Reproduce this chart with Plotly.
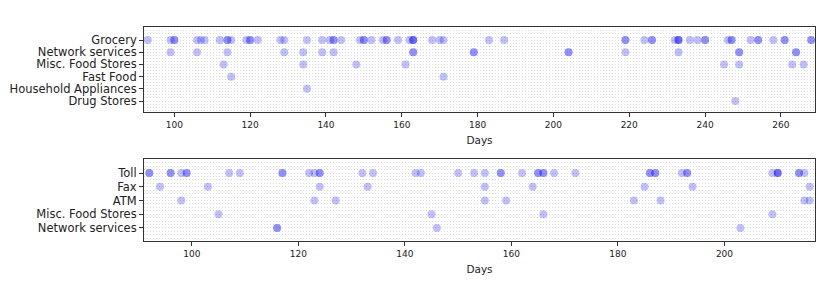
import plotly.graph_objects as go

# ---------------- data (day numbers, repeated days = several transactions) -------------
top_categories = ["Grocery", "Network services", "Misc. Food Stores", "Fast Food",
                  "Household Appliances", "Drug Stores"]
top_grocery = [93, 99, 100, 100, 106, 107, 108, 112, 114, 114, 115, 119, 120, 120, 122, 128, 129,
               135, 139, 141, 142, 142, 144, 149, 150, 150, 152, 155, 156, 156, 159, 162,
               163, 163, 163, 168, 170, 171, 183, 187, 219, 219, 224, 226, 226, 232,
               233, 233, 233, 236, 238, 240, 240, 246, 247, 247, 252, 254, 254, 258,
               261, 261, 268, 268]
top_network = [99, 106, 114, 129, 134, 139, 142, 163, 163, 179, 179, 204, 204, 219, 233,
               249, 249, 264, 264]
top_misc_food = [113, 134, 148, 161, 245, 249, 263, 266]
top_fast_food = [115, 171]
top_household = [135]
top_drug = [248]

bottom_categories = ["Toll", "Fax", "ATM", "Misc. Food Stores", "Network services"]
bottom_toll = [92, 92, 96, 96, 98, 99, 99, 107, 109, 117, 117, 122, 123, 124, 124, 132, 134,
               142, 143, 150, 153, 155, 158, 158, 162, 165, 165, 166, 166, 168, 172,
               186, 186, 187, 187, 192, 193, 193, 209, 210, 210, 210, 214, 214, 215]
bottom_fax = [94, 103, 124, 133, 155, 164, 185, 194, 216]
bottom_atm = [98, 123, 127, 155, 159, 183, 188, 215, 216]
bottom_misc_food = [105, 145, 166, 209]
bottom_network = [116, 116, 146, 203]

top_series = [top_grocery, top_network, top_misc_food, top_fast_food, top_household, top_drug]
bottom_series = [bottom_toll, bottom_fax, bottom_atm, bottom_misc_food, bottom_network]

# ---------------- figure -------------
MARKER = dict(size=8, color="rgba(0,0,255,0.25)", line=dict(width=0))
FONT = "DejaVu Sans"
fig = go.Figure()


def add_panel(series, xref, yref):
    for i, days in enumerate(series):
        fig.add_trace(go.Scatter(x=days, y=[i] * len(days), mode="markers",
                                 marker=MARKER, xaxis=xref, yaxis=yref,
                                 showlegend=False, hoverinfo="x"))


add_panel(top_series, "x", "y")
add_panel(bottom_series, "x2", "y2")

top_all = [d for s in top_series for d in s]
bot_all = [d for s in bottom_series for d in s]

GRID = "#dcdcdc"
DASH = "1px,2px"


def xaxis_cfg(domain_anchor, lo, hi):
    return dict(
        anchor=domain_anchor, domain=[0, 1], range=[lo, hi], automargin=False,
        tick0=0, dtick=20, ticks="outside", ticklen=4, tickcolor="#333",
        showline=True, mirror=True, linecolor="#333", linewidth=1,
        showgrid=False, zeroline=False,
        tickfont=dict(family=FONT, size=9, color="#222"),
        title=dict(text="Days", font=dict(family=FONT, size=10.5, color="#222"), standoff=7),
    )


def yaxis_cfg(anchor, domain, cats, lo, hi):
    return dict(
        anchor=anchor, domain=domain, range=[hi, lo], automargin=False,
        tickmode="array", tickvals=list(range(len(cats))), ticktext=cats,
        ticks="outside", ticklen=4, tickcolor="#333",
        showline=True, mirror=True, linecolor="#333", linewidth=1,
        showgrid=True, gridcolor=GRID, griddash=DASH, gridwidth=1, zeroline=False,
        tickfont=dict(family=FONT, size=11.5, color="#222"),
        minor=dict(tick0=0, dtick=0.25, showgrid=True, gridcolor=GRID, griddash=DASH, gridwidth=1),
    )


# page body has an 8px margin, so the figure is 8px smaller than the window
fig.update_layout(
    width=822, height=277,
    margin=dict(l=136, r=15, t=19, b=44, autoexpand=False),
    paper_bgcolor="white", plot_bgcolor="white",
    xaxis=xaxis_cfg("y", min(top_all) - 1, max(top_all) + 1),
    yaxis=yaxis_cfg("x", [0.6028, 1.0], top_categories, -1.07, 5.9),
    xaxis2=xaxis_cfg("y2", min(bot_all) - 1, max(bot_all) + 1),
    yaxis2=yaxis_cfg("x2", [0.0, 0.3832], bottom_categories, -1.02, 4.95),
)

fig.write_html("out.html")
